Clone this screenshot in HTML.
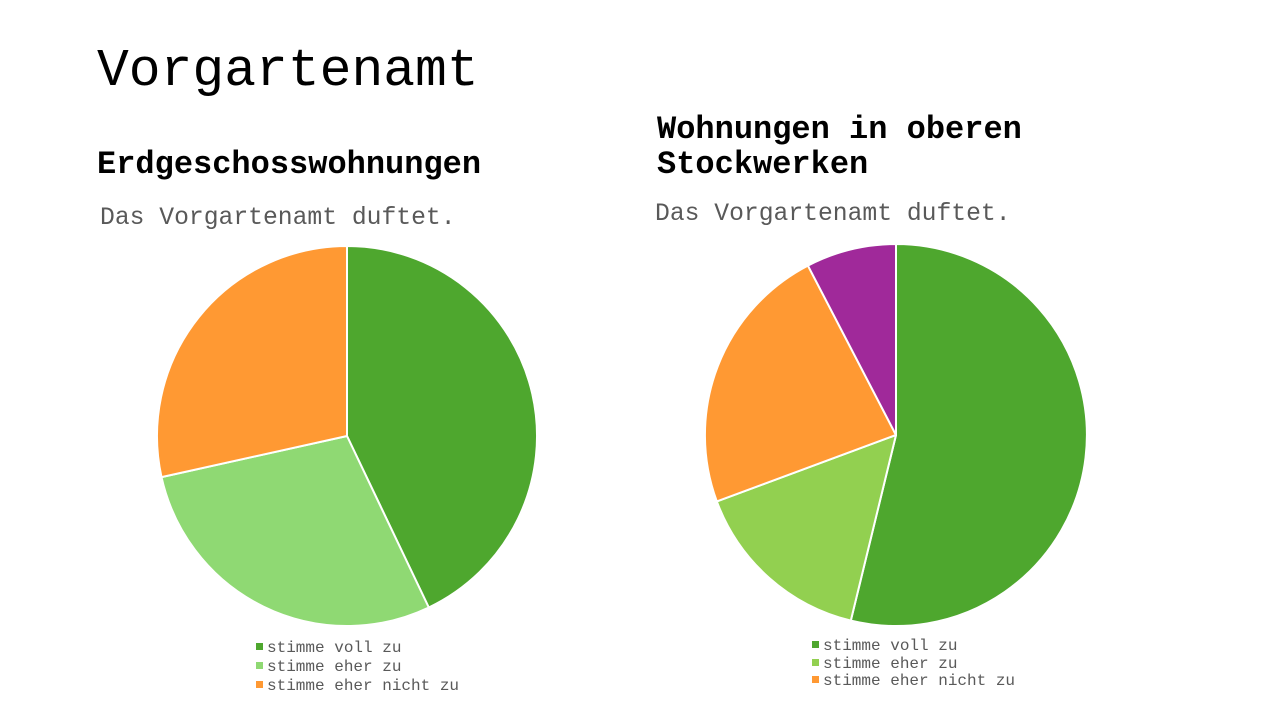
<!DOCTYPE html>
<html><head><meta charset="utf-8"><style>
body{margin:0;width:1280px;height:720px;background:#fff;position:relative;overflow:hidden;font-family:"Liberation Mono",monospace}
.t{position:absolute;white-space:nowrap}
.lg{position:absolute;font-size:16px;color:#595959;line-height:19px}
.lg span{display:inline-block;width:7px;height:7px;margin-right:4px;vertical-align:2px}
</style></head><body>
<div class="t" style="left:97px;top:41px;font-size:53px;color:#000;font-weight:300;line-height:60px">Vorgartenamt</div>
<div class="t" style="left:97px;top:145px;font-size:32px;font-weight:bold;color:#000;line-height:40px">Erdgeschosswohnungen</div>
<div class="t" style="left:657px;top:112px;font-size:32px;font-weight:bold;color:#000;line-height:35px">Wohnungen in oberen<br>Stockwerken</div>
<div class="t" style="left:100px;top:203px;font-size:24.7px;color:#595959;line-height:30px">Das Vorgartenamt duftet.</div>
<div class="t" style="left:655px;top:199px;font-size:24.7px;color:#595959;line-height:30px">Das Vorgartenamt duftet.</div>
<svg width="1280" height="720" style="position:absolute;left:0;top:0">
<g stroke="#fff" stroke-width="2" stroke-linejoin="round">
<path d="M347,436 L347,246 A190,190 0 0 1 428.8,607.5 Z" fill="#4EA72E"/>
<path d="M347,436 L428.8,607.5 A190,190 0 0 1 161.5,477.1 Z" fill="#8FD973"/>
<path d="M347,436 L161.5,477.1 A190,190 0 0 1 347,246 Z" fill="#FF9933"/>
<path d="M896,435 L896,244 A191,191 0 1 1 850.8,620.6 Z" fill="#4EA72E"/>
<path d="M896,435 L850.8,620.6 A191,191 0 0 1 716.8,501.4 Z" fill="#92D050"/>
<path d="M896,435 L716.8,501.4 A191,191 0 0 1 807.9,265.6 Z" fill="#FF9933"/>
<path d="M896,435 L807.9,265.6 A191,191 0 0 1 896,244 Z" fill="#A0299A"/>
</g></svg>
<div class="lg" style="left:256px;top:639px"><span style="background:#4EA72E"></span>stimme voll zu<br><span style="background:#8FD973"></span>stimme eher zu<br><span style="background:#FF9933"></span>stimme eher nicht zu</div>
<div class="lg" style="left:812px;top:638px;line-height:17.5px"><span style="background:#4EA72E"></span>stimme voll zu<br><span style="background:#92D050"></span>stimme eher zu<br><span style="background:#FF9933"></span>stimme eher nicht zu</div>
</body></html>
